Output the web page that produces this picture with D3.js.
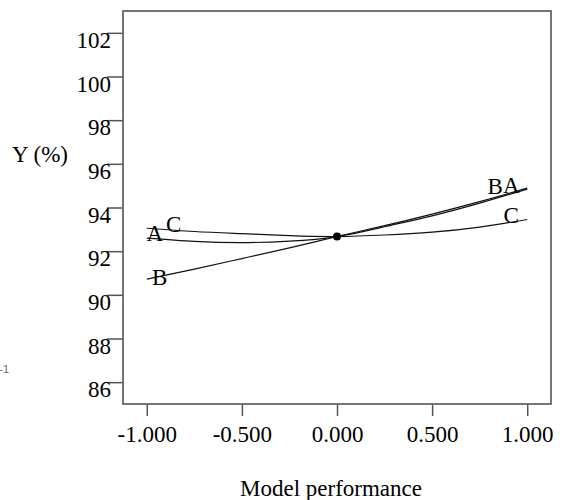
<!DOCTYPE html>
<html>
<head>
<meta charset="utf-8">
<script src="https://cdn.jsdelivr.net/npm/d3@7"></script>
<style>
  body { margin: 0; background: #fff; }
  text { font-family: "Liberation Serif", "Times New Roman", serif; fill: #000; }
</style>
</head>
<body>
<div id="wrapper"></div>
<script>
// deviation from reference point (coded units)
const xPoints = [-1, -0.75, -0.5, -0.25, 0, 0.25, 0.5, 0.75, 1];
// Y (%)
const seriesA = [92.60, 92.45, 92.39, 92.46, 92.67, 93.12, 93.62, 94.20, 94.84];
const seriesB = [90.72, 91.18, 91.66, 92.15, 92.67, 93.17, 93.70, 94.27, 94.89];
const seriesC = [93.05, 92.90, 92.80, 92.71, 92.67, 92.74, 92.87, 93.10, 93.45];
const seriesNames = ["A", "B", "C"];
const refPoint = [0, 92.67];

const yTicks = [86, 88, 90, 92, 94, 96, 98, 100, 102];
const xTicks = [-1, -0.5, 0, 0.5, 1];
const xTickLabels = ["-1.000", "-0.500", "0.000", "0.500", "1.000"];

var dimension = {
    width: 563,
    height: 500,
    margin: { top: 11, right: 12, bottom: 96, left: 123 }
};
dimension.boundedWidth = dimension.width - dimension.margin.left - dimension.margin.right;
dimension.boundedHeight = dimension.height - dimension.margin.top - dimension.margin.bottom;

const fontSize = "23px";

const wrapper = d3.select("#wrapper")
    .append("svg")
    .attr("width", dimension.width)
    .attr("height", dimension.height);

const bounds = wrapper.append("g")
    .attr("transform", `translate(${dimension.margin.left},${dimension.margin.top})`);

const x = d3.scaleLinear()
    .domain([-1.125, 1.125])
    .range([0, dimension.boundedWidth]);

const y = d3.scaleLinear()
    .domain([85, 103])
    .range([dimension.boundedHeight, 0]);

// axes
const yAxis = bounds.append("g")
    .call(d3.axisLeft(y).tickValues(yTicks).tickSize(16).tickFormat(d => d));
yAxis.select(".domain").remove();
yAxis.selectAll("line").attr("stroke", "#555").attr("stroke-width", 1.5);
yAxis.selectAll("text")
    .attr("x", -12)
    .attr("dy", "0.63em")
    .style("font-size", fontSize)
    .style("font-family", "Liberation Serif");

const xAxis = bounds.append("g")
    .attr("transform", `translate(0,${dimension.boundedHeight})`)
    .call(d3.axisBottom(x).tickValues(xTicks).tickSize(12).tickFormat((d, i) => xTickLabels[i]));
xAxis.select(".domain").remove();
xAxis.selectAll("line").attr("stroke", "#555").attr("stroke-width", 1.5);
xAxis.selectAll("text")
    .attr("y", 22)
    .style("font-size", fontSize)
    .style("font-family", "Liberation Serif");

// frame
bounds.append("rect")
    .attr("width", dimension.boundedWidth)
    .attr("height", dimension.boundedHeight)
    .attr("fill", "none")
    .attr("stroke", "#666")
    .attr("stroke-width", 1.8);

// traces
const series = [seriesA, seriesB, seriesC];
const line = d3.line()
    .x((d, i) => x(xPoints[i]))
    .y(d => y(d))
    .curve(d3.curveNatural);

bounds.selectAll(".trace")
    .data(series)
    .enter()
    .append("path")
    .attr("class", "trace")
    .attr("d", line)
    .attr("fill", "none")
    .attr("stroke", "#111")
    .attr("stroke-width", 1.2);

// labels at the ends of each trace (pixel nudges per label)
const leftNudge = { A: [8, 3], B: [13, 6], C: [27, 4] };
const rightNudge = { A: [-16, 4], B: [-32, 6], C: [-16, 3] };
series.forEach((s, k) => {
    const name = seriesNames[k];
    bounds.append("text")
        .attr("x", x(xPoints[0]) + leftNudge[name][0])
        .attr("y", y(s[0]) + leftNudge[name][1])
        .attr("text-anchor", "middle")
        .style("font-size", fontSize)
        .text(name);
    bounds.append("text")
        .attr("x", x(xPoints[xPoints.length - 1]) + rightNudge[name][0])
        .attr("y", y(s[s.length - 1]) + rightNudge[name][1])
        .attr("text-anchor", "middle")
        .style("font-size", fontSize)
        .text(name);
});

bounds.append("circle")
    .attr("cx", x(refPoint[0]))
    .attr("cy", y(refPoint[1]))
    .attr("r", 4)
    .attr("fill", "#000");

// axis titles
wrapper.append("text")
    .attr("x", 68)
    .attr("y", 162)
    .attr("text-anchor", "end")
    .style("font-size", fontSize)
    .text("Y (%)");

wrapper.append("text")
    .attr("x", 331)
    .attr("y", 496)
    .attr("text-anchor", "middle")
    .style("font-size", fontSize)
    .text("Model performance");

wrapper.append("text")
    .attr("x", 9)
    .attr("y", 373)
    .attr("text-anchor", "end")
    .style("font-family", "Liberation Sans")
    .style("font-size", "11px")
    .style("fill", "#666")
    .text("-1");
</script>
</body>
</html>
